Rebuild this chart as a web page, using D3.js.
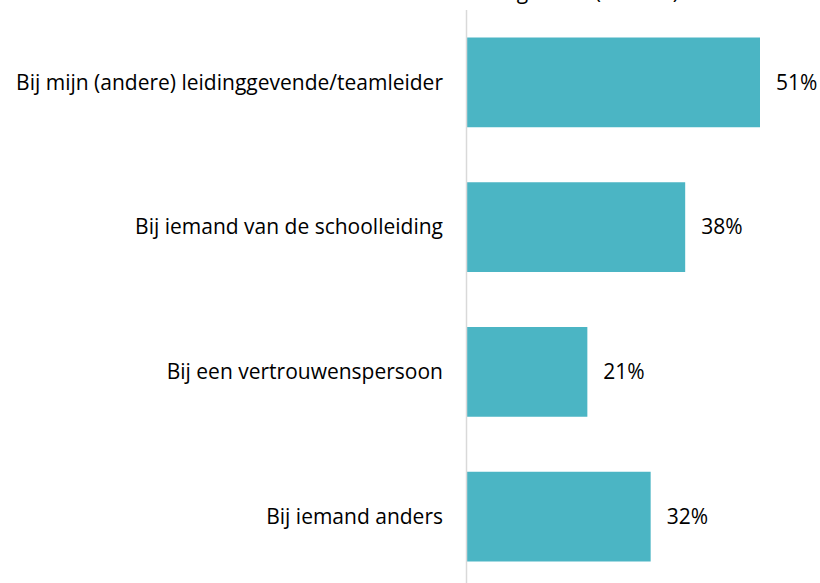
<!DOCTYPE html>
<html>
<head>
<meta charset="utf-8">
<script src="https://cdn.jsdelivr.net/npm/d3@7"></script>
<style>
  html, body { margin: 0; padding: 0; background: #fff; }
  svg { display: block; font-family: "Open Sans", sans-serif; }
</style>
</head>
<body>
<svg id="chart" width="820" height="583"></svg>
<script>
// Where the report was made, share of respondents
const categories = [
  "Bij mijn (andere) leidinggevende/teamleider",
  "Bij iemand van de schoolleiding",
  "Bij een vertrouwenspersoon",
  "Bij iemand anders"
];
const values = [51, 38, 21, 32];
const title = "Totaal gemeld (n = 143)";

const fontSize = 21;
const svg = d3.select("#chart");
const axisX = 466.5;

const x = d3.scaleLinear().domain([0, 51]).range([axisX, 760]);
const y = d3.scaleBand().domain(categories).range([10, 589]).paddingInner(0.38).paddingOuter(0.19);

// title, mostly above the top edge
svg.append("text")
  .attr("x", 679).attr("y", -1)
  .attr("text-anchor", "end")
  .attr("font-size", fontSize)
  .attr("fill", "#000")
  .text(title);

// bars
svg.append("g").selectAll("rect")
  .data(values)
  .join("rect")
  .attr("x", axisX + 0.5)
  .attr("y", (d, i) => y(categories[i]))
  .attr("width", d => x(d) - axisX - 0.5)
  .attr("height", y.bandwidth())
  .attr("fill", "#4BB5C4");

// value labels
svg.append("g").selectAll("text")
  .data(values)
  .join("text")
  .attr("x", d => x(d) + 16)
  .attr("y", (d, i) => y(categories[i]) + y.bandwidth() / 2)
  .attr("dy", "0.35em")
  .attr("font-size", fontSize)
  .attr("fill", "#000")
  .text(d => d + "%");

// category labels
svg.append("g").selectAll("text")
  .data(categories)
  .join("text")
  .attr("x", 443)
  .attr("y", d => y(d) + y.bandwidth() / 2)
  .attr("dy", "0.35em")
  .attr("text-anchor", "end")
  .attr("font-size", fontSize)
  .attr("fill", "#000")
  .text(d => d);

// vertical axis line
svg.append("line")
  .attr("x1", axisX).attr("x2", axisX)
  .attr("y1", 10).attr("y2", 583)
  .attr("stroke", "#d9d9d9")
  .attr("stroke-width", 1.5);
</script>
</body>
</html>
